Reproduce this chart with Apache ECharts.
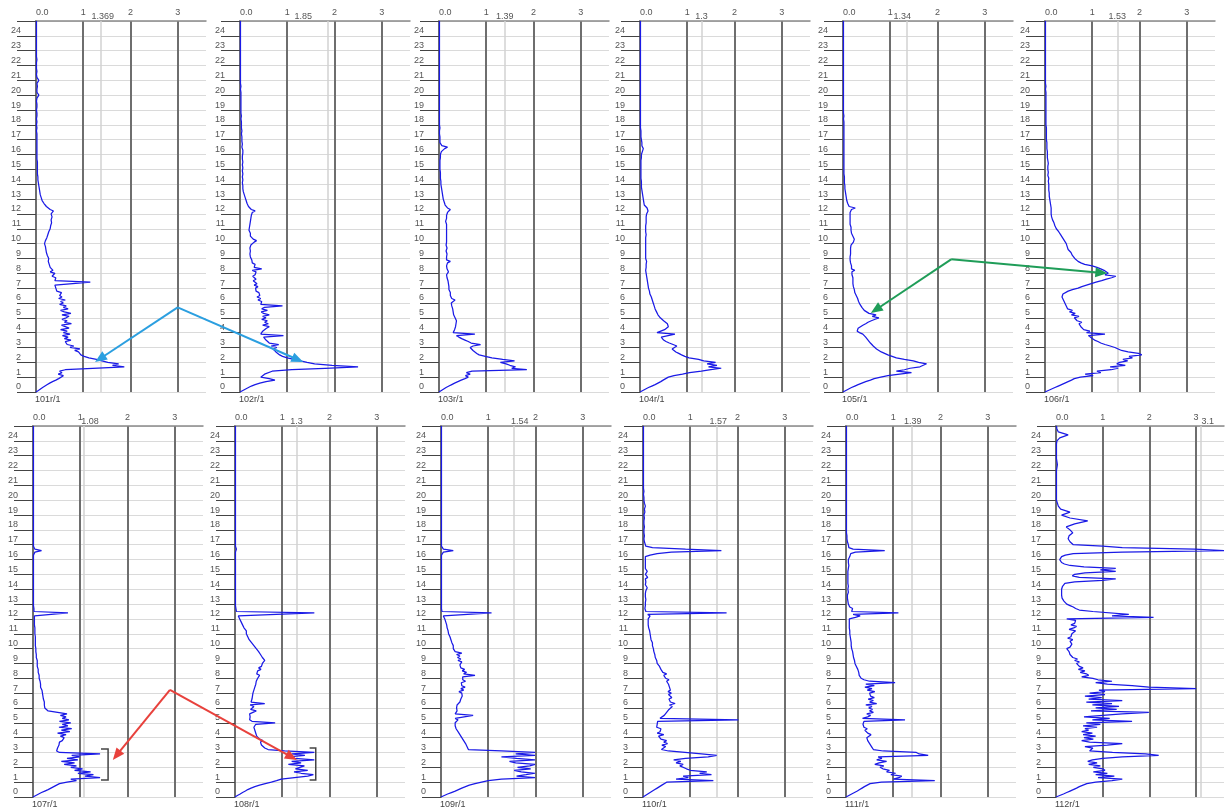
<!DOCTYPE html>
<html><head><meta charset="utf-8">
<script src="https://cdn.jsdelivr.net/npm/echarts@6/dist/echarts.min.js"></script>
<style>html,body{margin:0;padding:0;background:#fff}#c{width:1227px;height:809px}</style>
</head><body><div id="c"></div>
<script>
const depths = [
0,0.1,0.2,0.3,0.4,0.5,0.6,0.7,0.8,0.9,
1,1.1,1.2,1.3,1.4,1.5,1.6,1.7,1.8,1.9,
2,2.1,2.2,2.3,2.4,2.5,2.6,2.7,2.8,2.9,
3,3.1,3.2,3.3,3.4,3.5,3.6,3.7,3.8,3.9,
4,4.1,4.2,4.3,4.4,4.5,4.6,4.7,4.8,4.9,
5,5.1,5.2,5.3,5.4,5.5,5.6,5.7,5.8,5.9,
6,6.1,6.2,6.3,6.4,6.5,6.6,6.7,6.8,6.9,
7,7.1,7.2,7.3,7.4,7.5,7.6,7.7,7.8,7.9,
8,8.1,8.2,8.3,8.4,8.5,8.6,8.7,8.8,8.9,
9,9.1,9.2,9.3,9.4,9.5,9.6,9.7,9.8,9.9,
10,10.1,10.2,10.3,10.4,10.5,10.6,10.7,10.8,10.9,
11,11.1,11.2,11.3,11.4,11.5,11.6,11.7,11.8,11.9,
12,12.1,12.2,12.3,12.4,12.5,12.6,12.7,12.8,12.9,
13,13.1,13.2,13.3,13.4,13.5,13.6,13.7,13.8,13.9,
14,14.1,14.2,14.3,14.4,14.5,14.6,14.7,14.8,14.9,
15,15.1,15.2,15.3,15.4,15.5,15.6,15.7,15.8,15.9,
16,16.1,16.2,16.3,16.4,16.5,16.6,16.7,16.8,16.9,
17,
17.2,17.4,17.6,17.8,18,
18.2,18.4,18.6,18.8,19,
19.2,19.4,19.6,19.8,20,
20.2,20.4,20.6,20.8,21,
21.2,21.4,21.6,21.8,22,
22.2,22.4,22.6,22.8,23,
23.2,23.4,23.6,23.8,24,
24.2,24.4,24.6,24.8,25
];

const panelNames = ['101r/1','102r/1','103r/1','104r/1','105r/1','106r/1','107r/1','108r/1','109r/1','110r/1','111r/1','112r/1'];
const maxVals = [1.369,1.85,1.39,1.3,1.34,1.53,1.08,1.3,1.54,1.57,1.39,3.1];
const maxLabels = ['1.369','1.85','1.39','1.3','1.34','1.53','1.08','1.3','1.54','1.57','1.39','3.1'];
const xTickLabels = ['0.0','1','2','3'];

const p101 = [
0.00,0.05,0.09,0.14,0.19,0.24,0.29,0.35,0.42,0.48,
0.52,0.58,0.47,0.55,0.50,0.62,1.20,1.87,1.62,1.75,
1.52,1.40,1.28,1.12,1.02,0.95,0.98,0.90,0.82,0.93,
0.72,0.80,0.66,0.70,0.62,0.74,0.60,0.68,0.56,0.72,
0.58,0.66,0.52,0.70,0.62,0.54,0.75,0.60,0.66,0.55,
0.64,0.70,0.55,0.74,0.60,0.52,0.68,0.58,0.64,0.50,
0.58,0.52,0.62,0.48,0.55,0.50,0.46,0.54,0.44,0.48,
0.42,0.46,0.40,0.44,1.15,0.40,0.36,0.42,0.34,0.38,
0.40,0.30,0.36,0.32,0.30,0.34,0.28,0.30,0.26,0.29,
0.27,0.30,0.24,0.26,0.22,0.25,0.21,0.23,0.20,0.19,
0.18,0.22,0.20,0.24,0.23,0.26,0.25,0.28,0.27,0.29,
0.30,0.28,0.31,0.29,0.33,0.30,0.32,0.31,0.34,0.33,
0.32,0.34,0.37,0.30,0.26,0.22,0.20,0.17,0.15,0.13,
0.12,0.11,0.10,0.09,0.08,0.08,0.07,0.07,0.06,0.06,
0.05,0.05,0.05,0.04,0.04,0.04,0.04,0.03,0.03,0.03,
0.03,0.03,0.03,0.03,0.02,0.03,0.03,0.02,0.03,0.02,
0.02,0.02,0.03,0.02,0.02,0.02,0.02,0.02,0.02,0.02,
0.02,
0.02,0.02,0.01,0.02,0.01,
0.02,0.01,0.02,0.02,0.01,
0.02,0.02,0.01,0.02,0.06,
0.02,0.02,0.03,0.02,0.06,
0.02,0.01,0.02,0.01,0.01,
0.01,0.02,0.01,0.01,0.01,
0.01,0.01,0.01,0.01,0.01,
0.01,0.01,0.01,0.01,0.01
];
const p102 = [
0.00,0.06,0.12,0.18,0.24,0.32,0.42,0.55,0.74,0.62,
0.44,0.48,0.52,0.50,0.68,1.10,1.80,2.50,1.95,1.58,
1.42,1.28,1.14,1.00,0.90,0.84,0.80,0.76,0.72,0.70,
0.78,0.66,0.82,0.62,0.58,0.55,0.52,0.50,0.92,0.44,
0.40,0.48,0.44,0.56,0.62,0.48,0.60,0.52,0.58,0.46,
0.55,0.48,0.62,0.50,0.45,0.58,0.46,0.52,0.90,0.44,
0.40,0.46,0.38,0.44,0.36,0.42,0.38,0.40,0.34,0.38,
0.33,0.38,0.30,0.36,0.32,0.28,0.34,0.30,0.27,0.32,
0.28,0.34,0.26,0.46,0.30,0.27,0.32,0.26,0.28,0.25,
0.24,0.22,0.26,0.21,0.23,0.22,0.24,0.21,0.25,0.23,
0.26,0.30,0.35,0.28,0.24,0.22,0.21,0.22,0.20,0.19,
0.18,0.20,0.19,0.21,0.20,0.22,0.21,0.23,0.22,0.24,
0.23,0.26,0.32,0.24,0.20,0.18,0.16,0.15,0.14,0.13,
0.12,0.11,0.10,0.09,0.08,0.07,0.07,0.06,0.06,0.06,
0.06,0.05,0.05,0.06,0.06,0.05,0.07,0.06,0.05,0.05,
0.06,0.06,0.05,0.05,0.07,0.06,0.06,0.05,0.05,0.05,
0.05,0.06,0.08,0.06,0.05,0.04,0.04,0.05,0.05,0.04,
0.04,
0.04,0.03,0.04,0.03,0.03,
0.03,0.02,0.03,0.02,0.02,
0.02,0.02,0.02,0.02,0.02,
0.02,0.01,0.02,0.01,0.01,
0.01,0.01,0.01,0.01,0.01,
0.01,0.01,0.01,0.01,0.01,
0.01,0.01,0.01,0.01,0.01,
0.01,0.01,0.01,0.01,0.01
];
const p103 = [
0.00,0.05,0.10,0.15,0.21,0.27,0.33,0.40,0.47,0.55,
0.62,0.56,0.66,0.58,0.70,1.86,1.54,1.62,1.50,1.42,
1.30,1.60,1.35,1.12,0.98,0.85,0.80,0.76,0.72,0.70,
0.66,0.72,0.88,0.68,0.62,0.55,0.48,0.42,0.37,0.76,
0.30,0.34,0.33,0.36,0.35,0.38,0.36,0.39,0.37,0.35,
0.34,0.33,0.31,0.32,0.30,0.30,0.29,0.28,0.27,0.28,
0.26,0.30,0.34,0.27,0.25,0.24,0.23,0.24,0.22,0.21,
0.20,0.21,0.19,0.20,0.18,0.19,0.18,0.17,0.18,0.16,
0.17,0.20,0.16,0.17,0.15,0.16,0.15,0.18,0.24,0.16,
0.15,0.16,0.15,0.17,0.16,0.15,0.16,0.17,0.16,0.15,
0.15,0.16,0.17,0.16,0.15,0.16,0.17,0.16,0.15,0.16,
0.17,0.16,0.15,0.16,0.15,0.14,0.15,0.16,0.15,0.16,
0.17,0.18,0.20,0.24,0.18,0.15,0.13,0.12,0.11,0.10,
0.09,0.08,0.08,0.07,0.07,0.06,0.06,0.05,0.05,0.04,
0.04,0.04,0.04,0.03,0.03,0.03,0.03,0.03,0.03,0.02,
0.02,0.02,0.02,0.02,0.02,0.02,0.02,0.03,0.03,0.03,
0.03,0.04,0.05,0.08,0.12,0.18,0.06,0.03,0.02,0.02,
0.02,
0.02,0.01,0.01,0.02,0.01,
0.01,0.01,0.01,0.01,0.01,
0.01,0.01,0.01,0.01,0.01,
0.01,0.01,0.01,0.01,0.01,
0.01,0.01,0.01,0.01,0.01,
0.01,0.01,0.01,0.01,0.01,
0.01,0.01,0.01,0.01,0.01,
0.01,0.01,0.01,0.01,0.01
];
const p104 = [
0.00,0.06,0.12,0.18,0.25,0.32,0.38,0.44,0.49,0.53,
0.60,0.72,0.90,1.05,1.30,1.50,1.72,1.45,1.63,1.42,
1.60,1.35,1.24,1.04,0.95,0.88,0.82,0.76,0.72,0.68,
0.64,0.78,0.70,0.62,0.55,0.50,0.48,0.45,0.42,0.74,
0.36,0.44,0.52,0.56,0.60,0.62,0.58,0.55,0.50,0.46,
0.43,0.40,0.38,0.36,0.35,0.33,0.32,0.31,0.30,0.29,
0.28,0.27,0.26,0.25,0.24,0.22,0.21,0.20,0.20,0.19,
0.18,0.17,0.17,0.16,0.16,0.15,0.15,0.14,0.14,0.14,
0.13,0.15,0.12,0.16,0.13,0.12,0.13,0.12,0.14,0.12,
0.12,0.13,0.12,0.14,0.12,0.13,0.12,0.13,0.12,0.12,
0.12,0.13,0.12,0.13,0.12,0.12,0.13,0.12,0.12,0.13,
0.12,0.13,0.12,0.12,0.13,0.12,0.13,0.14,0.13,0.14,
0.14,0.15,0.17,0.18,0.15,0.11,0.09,0.08,0.08,0.07,
0.07,0.06,0.06,0.05,0.05,0.04,0.04,0.04,0.03,0.03,
0.03,0.03,0.03,0.02,0.02,0.02,0.02,0.02,0.02,0.02,
0.02,0.02,0.02,0.02,0.02,0.02,0.02,0.02,0.03,0.03,
0.03,0.04,0.05,0.06,0.07,0.05,0.04,0.06,0.04,0.03,
0.03,
0.02,0.02,0.02,0.01,0.01,
0.01,0.01,0.01,0.01,0.01,
0.01,0.01,0.01,0.01,0.01,
0.01,0.01,0.01,0.01,0.01,
0.01,0.01,0.01,0.01,0.01,
0.01,0.01,0.01,0.01,0.01,
0.01,0.01,0.01,0.01,0.01,
0.01,0.01,0.01,0.01,0.01
];
const p105 = [
0.00,0.06,0.12,0.18,0.25,0.32,0.40,0.48,0.58,0.66,
0.80,0.95,1.20,1.45,1.13,1.30,1.42,1.63,1.70,1.77,
1.60,1.49,1.30,1.13,1.04,0.95,0.88,0.81,0.76,0.71,
0.67,0.64,0.60,0.58,0.56,0.53,0.50,0.48,0.46,0.42,
0.35,0.30,0.28,0.32,0.36,0.42,0.48,0.53,0.60,0.68,
0.76,0.62,0.70,0.55,0.58,0.45,0.42,0.40,0.38,0.36,
0.35,0.33,0.32,0.31,0.29,0.28,0.27,0.25,0.24,0.24,
0.23,0.22,0.22,0.21,0.21,0.21,0.20,0.21,0.20,0.19,
0.22,0.19,0.25,0.18,0.19,0.18,0.17,0.16,0.15,0.15,
0.14,0.15,0.14,0.16,0.15,0.16,0.17,0.16,0.18,0.17,
0.19,0.22,0.18,0.24,0.20,0.21,0.19,0.18,0.17,0.17,
0.16,0.17,0.16,0.15,0.16,0.15,0.16,0.15,0.14,0.15,
0.14,0.15,0.16,0.18,0.26,0.13,0.11,0.10,0.09,0.08,
0.07,0.07,0.06,0.06,0.05,0.05,0.05,0.04,0.04,0.04,
0.04,0.03,0.03,0.03,0.03,0.03,0.03,0.02,0.02,0.02,
0.02,0.02,0.02,0.02,0.02,0.02,0.02,0.02,0.02,0.02,
0.02,0.02,0.02,0.02,0.02,0.02,0.02,0.02,0.02,0.02,
0.02,
0.02,0.02,0.02,0.02,0.02,
0.02,0.01,0.02,0.01,0.01,
0.01,0.01,0.01,0.01,0.01,
0.01,0.01,0.01,0.01,0.01,
0.01,0.01,0.01,0.01,0.01,
0.01,0.01,0.01,0.01,0.01,
0.01,0.01,0.01,0.01,0.01,
0.01,0.01,0.01,0.01,0.01
];
const p106 = [
0.00,0.07,0.14,0.21,0.28,0.35,0.42,0.49,0.56,0.62,
0.75,1.02,0.85,1.18,1.10,1.40,1.55,1.38,1.70,1.52,
1.58,1.75,1.65,1.85,1.78,2.05,1.98,1.76,1.62,1.55,
1.48,1.38,1.27,1.18,1.12,1.05,1.00,0.98,0.92,1.27,
0.88,0.95,0.82,0.86,0.76,0.80,0.72,0.78,0.68,0.72,
0.62,0.72,0.56,0.64,0.52,0.58,0.48,0.52,0.45,0.47,
0.42,0.44,0.39,0.41,0.36,0.38,0.38,0.42,0.49,0.58,
0.70,0.78,0.88,0.98,1.08,1.20,1.30,1.41,1.50,1.27,
1.34,1.30,1.25,1.18,1.10,1.00,0.84,0.76,0.70,0.66,
0.63,0.61,0.58,0.56,0.55,0.52,0.49,0.48,0.47,0.46,
0.45,0.43,0.41,0.39,0.37,0.35,0.33,0.31,0.29,0.27,
0.24,0.23,0.21,0.20,0.19,0.17,0.16,0.15,0.14,0.14,
0.13,0.13,0.13,0.13,0.13,0.13,0.12,0.11,0.11,0.10,
0.10,0.10,0.09,0.09,0.09,0.08,0.08,0.08,0.08,0.08,
0.08,0.07,0.07,0.08,0.08,0.06,0.06,0.07,0.07,0.06,
0.06,0.06,0.06,0.07,0.07,0.06,0.06,0.05,0.05,0.05,
0.05,0.05,0.05,0.04,0.04,0.04,0.04,0.04,0.04,0.03,
0.03,
0.03,0.03,0.03,0.03,0.02,
0.02,0.02,0.02,0.02,0.02,
0.02,0.02,0.02,0.02,0.02,
0.02,0.01,0.02,0.01,0.01,
0.01,0.01,0.01,0.01,0.01,
0.01,0.01,0.01,0.01,0.01,
0.01,0.01,0.01,0.01,0.01,
0.01,0.01,0.01,0.01,0.01
];
const p107 = [
0.00,0.06,0.12,0.18,0.25,0.32,0.38,0.44,0.50,0.56,
0.72,0.92,0.80,1.42,1.10,1.28,0.95,1.22,0.88,1.05,
0.80,0.92,0.66,0.88,0.60,0.95,0.72,0.99,0.82,1.42,
0.56,0.50,0.48,0.52,0.50,0.55,0.58,0.56,0.62,0.60,
0.66,0.58,0.70,0.52,0.78,0.60,0.82,0.55,0.74,0.62,
0.80,0.56,0.76,0.62,0.70,0.58,0.72,0.70,0.32,0.28,
0.25,0.27,0.24,0.26,0.24,0.23,0.22,0.23,0.21,0.20,
0.20,0.21,0.19,0.17,0.16,0.15,0.16,0.14,0.15,0.13,
0.13,0.12,0.13,0.12,0.11,0.10,0.11,0.10,0.09,0.10,
0.09,0.08,0.09,0.08,0.07,0.08,0.07,0.07,0.06,0.07,
0.06,0.06,0.05,0.06,0.05,0.05,0.05,0.04,0.05,0.04,
0.04,0.04,0.04,0.03,0.04,0.03,0.03,0.03,0.03,0.03,
0.03,0.02,0.03,0.02,0.74,0.02,0.02,0.02,0.01,0.01,
0.01,0.01,0.01,0.01,0.01,0.01,0.01,0.01,0.01,0.01,
0.01,0.01,0.01,0.01,0.01,0.01,0.01,0.01,0.01,0.01,
0.01,0.01,0.01,0.01,0.01,0.01,0.01,0.01,0.01,0.01,
0.01,0.01,0.01,0.01,0.02,0.04,0.18,0.04,0.02,0.01,
0.01,
0.01,0.01,0.01,0.01,0.01,
0.01,0.01,0.01,0.01,0.01,
0.01,0.01,0.01,0.01,0.01,
0.01,0.01,0.01,0.01,0.01,
0.01,0.01,0.01,0.01,0.01,
0.01,0.01,0.01,0.01,0.01,
0.01,0.01,0.01,0.01,0.01,
0.01,0.01,0.01,0.01,0.01
];
const p108 = [
0.00,0.05,0.11,0.16,0.22,0.27,0.34,0.42,0.52,0.64,
0.77,0.88,0.98,1.26,1.54,1.66,1.40,1.25,1.54,1.28,
1.30,1.47,1.13,1.40,1.20,1.68,1.26,1.12,1.48,1.20,
1.68,1.05,0.70,0.63,0.60,0.56,0.58,0.54,0.59,0.52,
0.49,0.46,0.50,0.44,0.47,0.42,0.45,0.40,0.38,0.44,
0.85,0.36,0.31,0.34,0.32,0.35,0.31,0.34,0.45,0.33,
0.35,0.40,0.32,0.63,0.34,0.31,0.36,0.33,0.37,0.34,
0.38,0.35,0.40,0.36,0.42,0.38,0.44,0.40,0.45,0.42,
0.48,0.44,0.52,0.46,0.50,0.48,0.55,0.50,0.56,0.53,
0.58,0.55,0.63,0.60,0.58,0.56,0.54,0.55,0.50,0.48,
0.45,0.42,0.40,0.38,0.35,0.31,0.30,0.29,0.27,0.26,
0.24,0.22,0.24,0.21,0.19,0.17,0.16,0.15,0.13,0.12,
0.10,0.09,0.07,0.06,1.68,0.03,0.02,0.02,0.02,0.01,
0.01,0.01,0.01,0.01,0.01,0.01,0.01,0.01,0.01,0.01,
0.01,0.01,0.01,0.01,0.01,0.01,0.01,0.01,0.01,0.01,
0.01,0.01,0.01,0.01,0.01,0.01,0.01,0.01,0.01,0.01,
0.01,0.01,0.01,0.01,0.01,0.01,0.02,0.03,0.02,0.01,
0.01,
0.01,0.01,0.01,0.01,0.01,
0.01,0.01,0.01,0.01,0.01,
0.01,0.01,0.01,0.01,0.01,
0.01,0.01,0.01,0.01,0.01,
0.01,0.01,0.01,0.01,0.01,
0.01,0.01,0.01,0.01,0.01,
0.01,0.01,0.01,0.01,0.01,
0.01,0.01,0.01,0.01,0.01
];
const p109 = [
0.00,0.07,0.14,0.22,0.30,0.37,0.44,0.52,0.60,0.72,
0.86,1.00,1.28,1.99,1.60,1.80,1.99,1.70,1.55,1.90,
1.62,1.88,1.99,1.58,1.45,1.99,1.60,1.28,1.99,1.58,
1.99,1.28,0.58,0.56,0.55,0.54,0.52,0.50,0.48,0.46,
0.44,0.42,0.40,0.38,0.36,0.33,0.32,0.31,0.30,0.31,
0.30,0.28,0.36,0.30,0.33,0.68,0.30,0.32,0.34,0.33,
0.33,0.36,0.34,0.38,0.40,0.37,0.42,0.39,0.45,0.41,
0.44,0.38,0.48,0.42,0.51,0.44,0.47,0.43,0.52,0.46,
0.50,0.46,0.72,0.48,0.54,0.45,0.50,0.42,0.46,0.40,
0.38,0.44,0.36,0.42,0.35,0.40,0.33,0.44,0.30,0.28,
0.26,0.25,0.26,0.24,0.23,0.23,0.21,0.20,0.19,0.17,
0.16,0.15,0.15,0.14,0.13,0.12,0.12,0.11,0.10,0.09,
0.08,0.07,0.05,0.04,1.07,0.02,0.01,0.01,0.01,0.01,
0.01,0.01,0.01,0.01,0.01,0.01,0.01,0.01,0.01,0.01,
0.01,0.01,0.01,0.01,0.01,0.01,0.01,0.01,0.01,0.01,
0.01,0.01,0.01,0.01,0.01,0.01,0.01,0.01,0.01,0.01,
0.01,0.01,0.01,0.01,0.02,0.05,0.26,0.05,0.02,0.01,
0.01,
0.01,0.01,0.01,0.01,0.01,
0.01,0.01,0.01,0.01,0.01,
0.01,0.01,0.01,0.01,0.01,
0.01,0.01,0.01,0.01,0.01,
0.01,0.01,0.01,0.01,0.01,
0.01,0.01,0.01,0.01,0.01,
0.01,0.01,0.01,0.01,0.01,
0.01,0.01,0.01,0.01,0.01
];
const p110 = [
0.00,0.05,0.10,0.15,0.20,0.25,0.30,0.35,0.40,0.44,
0.50,1.49,0.70,0.96,0.85,1.45,1.20,1.35,1.00,0.92,
0.90,0.78,0.85,0.70,0.80,0.65,0.90,1.38,1.56,1.24,
0.89,0.54,0.39,0.42,0.48,0.40,0.52,0.44,0.50,0.38,
0.42,0.33,0.44,0.30,0.36,0.32,0.38,0.29,0.33,0.30,
0.28,0.31,2.02,0.36,0.40,0.45,0.42,0.50,0.46,0.55,
0.52,0.62,0.56,0.68,0.58,0.60,0.55,0.61,0.57,0.54,
0.60,0.53,0.58,0.62,0.56,0.60,0.54,0.58,0.50,0.55,
0.48,0.52,0.44,0.50,0.42,0.45,0.38,0.42,0.35,0.33,
0.30,0.28,0.29,0.27,0.26,0.27,0.25,0.24,0.23,0.22,
0.22,0.21,0.20,0.19,0.20,0.18,0.17,0.17,0.16,0.15,
0.15,0.14,0.14,0.13,0.12,0.12,0.11,0.11,0.11,0.12,
0.11,0.12,0.15,0.10,1.77,0.06,0.05,0.04,0.06,0.05,
0.04,0.05,0.08,0.06,0.04,0.05,0.07,0.05,0.04,0.06,
0.05,0.09,0.06,0.05,0.08,0.06,0.04,0.05,0.10,0.06,
0.05,0.06,0.09,0.06,0.05,0.07,0.05,0.04,0.05,0.06,
0.05,0.06,0.05,0.15,0.30,0.60,1.66,0.90,0.20,0.06,
0.04,
0.03,0.02,0.03,0.02,0.02,
0.03,0.02,0.02,0.03,0.02,
0.04,0.03,0.05,0.03,0.02,
0.02,0.01,0.02,0.01,0.01,
0.01,0.01,0.01,0.01,0.01,
0.01,0.01,0.01,0.01,0.01,
0.01,0.01,0.01,0.01,0.01,
0.01,0.01,0.01,0.01,0.01
];
const p111 = [
0.00,0.06,0.12,0.18,0.24,0.29,0.34,0.39,0.45,0.51,
0.75,1.88,1.00,1.12,1.18,0.95,1.05,0.86,0.92,0.78,
0.72,0.80,0.61,0.70,0.86,0.65,0.76,0.68,1.74,1.55,
1.49,0.79,0.58,0.56,0.54,0.51,0.50,0.48,0.46,0.45,
0.44,0.48,0.53,0.46,0.42,0.40,0.45,0.38,0.41,0.36,
0.32,0.38,1.25,0.35,0.46,0.52,0.44,0.58,0.50,0.56,
0.48,0.55,0.42,0.65,0.50,0.58,0.47,0.60,0.52,0.56,
0.50,0.61,0.45,0.55,0.40,0.60,0.42,1.04,0.50,0.38,
0.32,0.36,0.28,0.30,0.27,0.26,0.25,0.24,0.22,0.21,
0.19,0.18,0.18,0.17,0.16,0.16,0.15,0.14,0.14,0.13,
0.12,0.12,0.11,0.11,0.11,0.10,0.10,0.10,0.09,0.09,
0.08,0.08,0.08,0.08,0.07,0.07,0.07,0.07,0.07,0.07,
0.07,0.20,0.30,0.15,1.11,0.12,0.10,0.14,0.08,0.06,
0.05,0.04,0.04,0.06,0.03,0.05,0.03,0.04,0.05,0.03,
0.04,0.03,0.05,0.03,0.04,0.03,0.04,0.03,0.04,0.03,
0.04,0.05,0.04,0.07,0.05,0.04,0.06,0.04,0.05,0.04,
0.05,0.06,0.08,0.06,0.10,0.20,0.82,0.15,0.06,0.05,
0.05,
0.03,0.02,0.02,0.01,0.01,
0.01,0.01,0.01,0.01,0.01,
0.01,0.01,0.01,0.01,0.01,
0.01,0.01,0.01,0.01,0.01,
0.01,0.01,0.01,0.01,0.01,
0.01,0.01,0.01,0.01,0.01,
0.01,0.01,0.01,0.01,0.01,
0.01,0.01,0.01,0.01,0.01
];
const p112 = [
0.00,0.08,0.16,0.23,0.30,0.37,0.44,0.50,0.58,0.66,
0.85,1.20,1.42,0.90,1.25,0.85,1.10,0.80,1.05,1.00,
0.80,0.95,0.70,0.88,0.68,0.78,1.00,1.42,2.20,1.92,
1.21,0.72,0.68,0.79,0.62,1.10,1.42,0.72,0.55,0.80,
0.60,0.85,0.58,0.78,0.55,0.70,0.62,0.88,0.58,0.95,
0.65,1.63,0.78,1.15,0.60,1.00,1.42,1.99,0.75,1.30,
0.85,1.35,0.78,1.20,0.65,1.42,0.70,0.98,0.62,1.05,
0.72,1.05,0.92,3.00,1.99,1.63,1.10,0.85,1.20,0.90,
0.79,0.55,0.70,0.65,0.52,0.62,0.48,0.58,0.50,0.46,
0.44,0.50,0.40,0.46,0.36,0.38,0.30,0.34,0.28,0.26,
0.23,0.30,0.26,0.34,0.38,0.30,0.36,0.25,0.32,0.28,
0.34,0.30,0.42,0.28,0.38,0.44,0.32,0.40,0.36,0.42,
0.23,2.09,1.20,1.56,1.60,0.79,0.50,0.42,0.37,0.30,
0.23,0.20,0.17,0.15,0.13,0.12,0.12,0.11,0.12,0.12,
0.12,0.13,0.14,0.16,0.19,0.40,1.00,1.28,0.50,0.35,
0.40,0.62,1.28,0.95,1.28,0.60,0.30,0.18,0.12,0.09,
0.08,0.09,0.12,0.20,0.37,1.42,3.60,2.97,1.42,1.00,
0.37,
0.30,0.26,0.28,0.36,0.30,
0.22,0.40,0.68,0.30,0.12,
0.30,0.10,0.05,0.03,0.01,
0.01,0.01,0.01,0.01,0.01,
0.01,0.01,0.01,0.01,0.01,
0.02,0.03,0.02,0.01,0.01,
0.01,0.01,0.01,0.01,0.02,
0.08,0.26,0.05,0.02,0.01
];
const profiles = [p101,p102,p103,p104,p105,p106,p107,p108,p109,p110,p111,p112];
profiles.forEach((p,i)=>{ if(p.length!==depths.length) throw new Error('length mismatch panel '+i+': '+p.length+' vs '+depths.length); });

// ---- layout (pixels) ----
const lefts = [36,240,439,640,843,1045,33,235,441,643,846,1056];
const tops = [21,426];
const GW = 170, GH = 371;
const labelShift = [2,-24,0,0,-4,0,6,0,6,1,1,7];
const FONT = '"Liberation Sans", Arial, sans-serif';

const grid = [], xAxis = [], yAxis = [], series = [];
profiles.forEach((vals,i)=>{
  const row = i < 6 ? 0 : 1;
  grid.push({left: lefts[i], top: tops[row], width: GW, height: GH, containLabel:false});
  xAxis.push({
    gridIndex:i, type:'value', position:'top', min:0, max:3.6, interval:1,
    axisLine:{show:true, onZero:false, lineStyle:{color:'#8a8a8a', width:1.5}},
    axisTick:{show:false},
    axisLabel:{show:true, fontSize:9, color:'#555', margin:4, fontFamily:FONT, alignMinLabel:'left',
      formatter:(v)=> (Number.isInteger(v) && v>=0 && v<=3) ? xTickLabels[v] : ''},
    splitLine:{show:true, showMaxLine:false, lineStyle:{color:'#6e6e6e', width:2}}
  });
  yAxis.push({
    gridIndex:i, type:'value', min:0, max:25, interval:1,
    axisLine:{show:true, onZero:false, lineStyle:{color:'#6e6e6e', width:2}},
    axisTick:{show:true, inside:false, length:19, lineStyle:{color:'#444', width:1}},
    axisLabel:{show:true, fontSize:9, color:'#555', margin:15, fontFamily:FONT, verticalAlign:'bottom', lineHeight:10,
      formatter:(v)=> v>=25 ? '' : String(v)},
    splitLine:{show:true, lineStyle:{color:'#dadada', width:1.2}}
  });
  series.push({
    type:'line', xAxisIndex:i, yAxisIndex:i, showSymbol:false, symbol:'none', silent:true, animation:false, clip:true,
    data: depths.map((d,k)=>[vals[k], d]),
    lineStyle:{color:'#1a1ae6', width:1.25},
    z:3,
    markLine:{silent:true, symbol:'none', animation:false, label:{show:false},
      lineStyle:{color:'#d2d2d2', width:1.5, type:'solid'}, z:1,
      data:[{xAxis:maxVals[i]}]}
  });
});

const chart = echarts.init(document.getElementById('c'), null, {renderer:'canvas'});
chart.setOption({animation:false, backgroundColor:'#fff', textStyle:{fontFamily:FONT}, grid, xAxis, yAxis, series});

// ---- annotations placed in data coordinates ----
const px = (g, x, y) => chart.convertToPixel({gridIndex:g}, [x, y]);
function arrowParts(a, b, color){
  const dx=b[0]-a[0], dy=b[1]-a[1], L=Math.hypot(dx,dy), ux=dx/L, uy=dy/L;
  const hl=12, hw=5;
  const bx=b[0]-ux*hl, by=b[1]-uy*hl;
  return [
    {type:'line', z:50, shape:{x1:a[0],y1:a[1],x2:bx+ux*2,y2:by+uy*2}, style:{stroke:color, lineWidth:2}},
    {type:'polygon', z:50, shape:{points:[[b[0],b[1]],[bx-uy*hw,by+ux*hw],[bx+uy*hw,by-ux*hw]]}, style:{fill:color}}
  ];
}
function bracket(g, x, xs, y0, y1){
  const a=px(g,xs,y1), b=px(g,x,y1), c=px(g,x,y0), d=px(g,xs,y0);
  return {type:'polyline', z:50, shape:{points:[a,b,c,d]}, style:{stroke:'#444', lineWidth:1.5, fill:null}};
}
const graphic = [];
const blueApex = px(0, 3.0, 5.7);
graphic.push(...arrowParts(blueApex, px(0, 1.25, 2.02), '#2b9fe0'));
graphic.push(...arrowParts(blueApex, px(1, 1.34, 2.02), '#2b9fe0'));
const greenApex = px(4, 2.29, 8.94);
graphic.push(...arrowParts(greenApex, px(4, 0.59, 5.32), '#1f9d58'));
graphic.push(...arrowParts(greenApex, px(5, 1.32, 8.0), '#1f9d58'));
const redApex = px(6, 2.9, 7.22);
graphic.push(...arrowParts(redApex, px(6, 1.69, 2.5), '#e8413c'));
graphic.push(...arrowParts(redApex, px(7, 1.31, 2.5), '#e8413c'));
graphic.push(bracket(6, 1.59, 1.44, 1.15, 3.24));
graphic.push(bracket(7, 1.71, 1.58, 1.15, 3.3));

profiles.forEach((v,i)=>{
  const m = px(i, maxVals[i], 25);
  graphic.push({type:'text', z:40, x:m[0]+labelShift[i], y:m[1]+0.5, style:{text:maxLabels[i], fill:'#555', font:'9px '+FONT, textAlign:'center', textVerticalAlign:'bottom'}});
  const b = px(i, 0, 0);
  graphic.push({type:'text', z:40, x:b[0]-1, y:b[1]+3, style:{text:panelNames[i], fill:'#444', font:'9px '+FONT, textAlign:'left', textVerticalAlign:'top'}});
});
chart.setOption({graphic});
</script>
</body></html>
